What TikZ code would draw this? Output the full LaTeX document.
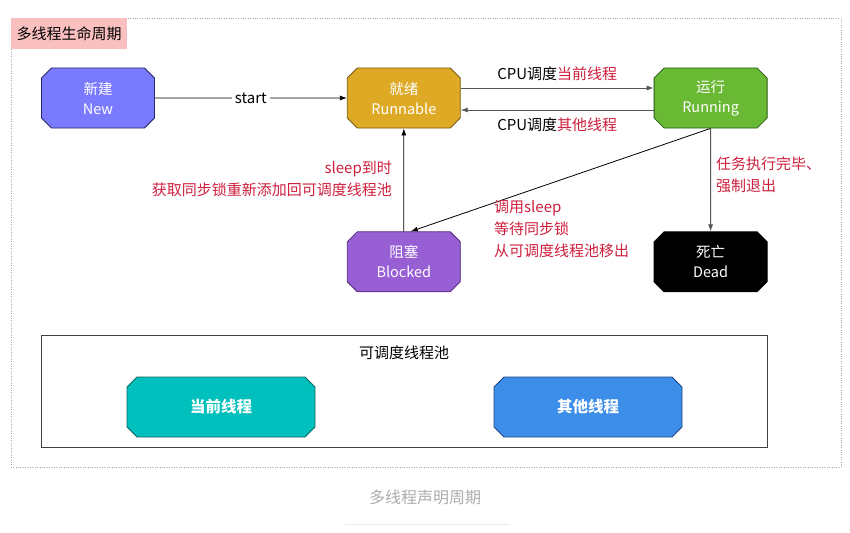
\documentclass[tikz,border=0pt]{standalone}
\usepackage{fontspec}
\setmainfont{Noto Sans CJK SC}
\usepackage{tikz}
\usetikzlibrary{arrows.meta,positioning,shapes.misc}
\definecolor{newblue}{RGB}{122,122,255}
\definecolor{newedge}{RGB}{40,40,110}
\definecolor{runyellow}{RGB}{222,170,38}
\definecolor{runedge}{RGB}{120,90,20}
\definecolor{rungreen}{RGB}{106,185,52}
\definecolor{greenedge}{RGB}{40,90,20}
\definecolor{blockpurple}{RGB}{152,94,212}
\definecolor{purpleedge}{RGB}{80,40,120}
\definecolor{poolteal}{RGB}{0,192,190}
\definecolor{tealedge}{RGB}{20,100,100}
\definecolor{poolblue}{RGB}{60,142,232}
\definecolor{bluedge}{RGB}{30,70,130}
\definecolor{tagpink}{RGB}{250,192,192}
\definecolor{notered}{RGB}{206,30,60}
\definecolor{linegray}{RGB}{85,85,85}

\begin{document}
\begin{tikzpicture}[x=1pt, y=-1pt,
  state/.style={chamfered rectangle, chamfered rectangle xsep=5pt, chamfered rectangle ysep=5pt, draw, line width=0.8pt, minimum width=113pt, minimum height=60pt, inner sep=0pt, align=center, text=white, font=\fontsize{14.5}{20}\selectfont},
  poolstate/.style={state, minimum width=188pt, font=\fontsize{15.5}{20}\selectfont\bfseries},
  note/.style={text=notered, font=\fontsize{15}{22}\selectfont, inner sep=0pt},
  lbl/.style={text=black, font=\fontsize{15}{17}\selectfont},
  arrow/.style={-{Latex[length=7pt,width=5pt]}, line width=0.8pt, linegray}
]
\useasboundingbox (0,0) rectangle (850,532);
% frame and title tag
\draw[gray!70, dotted] (11,18) rectangle (841,467);
\node[fill=tagpink, minimum width=116pt, minimum height=31pt, inner sep=0pt, font=\fontsize{15}{17}\selectfont, anchor=north west] (tag) at (11,18) {多线程生命周期};

% states
\node[state, fill=newblue, draw=newedge] (new) at (98,98) {新建\\New};
\node[state, fill=runyellow, draw=runedge, right=192pt of new] (runnable) {就绪\\Runnable};
\node[state, fill=rungreen, draw=greenedge, right=193pt of runnable] (running) {运行\\Running};
\node[state, fill=blockpurple, draw=purpleedge, below=103pt of runnable] (blocked) {阻塞\\Blocked};
\node[state, fill=black, draw=black, below=103pt of running] (dead) {死亡\\Dead};

% transitions
\draw[arrow, black] (new) -- node[fill=white, lbl]{start} (runnable);
\draw[arrow] ([yshift=10pt]runnable.east) -- node[above=4pt, lbl]{CPU调度\textcolor{notered}{当前线程}} ([yshift=10pt]running.west);
\draw[arrow] ([yshift=-12pt]running.west) -- node[below=4pt, lbl]{CPU调度\textcolor{notered}{其他线程}} ([yshift=-12pt]runnable.east);
\draw[arrow, black] (blocked) -- (runnable);
\draw[arrow, black] (running.south) -- ([xshift=7pt]blocked.north);
\draw[arrow] (running) -- (dead);

% notes
\node[note, align=right, anchor=east] (wake) at (392,179) {sleep到时\\获取同步锁重新添加回可调度线程池};
\node[note, align=left, anchor=west] (sleep) at (494,229) {调用sleep\\等待同步锁\\从可调度线程池移出};
\node[note, align=left, anchor=west] (finish) at (716,175) {任务执行完毕、\\强制退出};

% thread pool
\node[draw=black!75, line width=0.8pt, minimum width=726pt, minimum height=112pt, inner sep=0pt] (pool) at (404,391) {};
\node[lbl, below=8pt of pool.north] (pooltitle) {可调度线程池};
\node[poolstate, fill=poolteal, draw=tealedge] (current) at (221,407) {当前线程};
\node[poolstate, fill=poolblue, draw=bluedge] (other) at (588,407) {其他线程};

% caption
\node[text=gray!65, font=\fontsize{16}{18}\selectfont] (caption) at (425,497) {多线程声明周期};
\draw[black!8] (345,524) -- (510,524);
\end{tikzpicture}
\end{document}
